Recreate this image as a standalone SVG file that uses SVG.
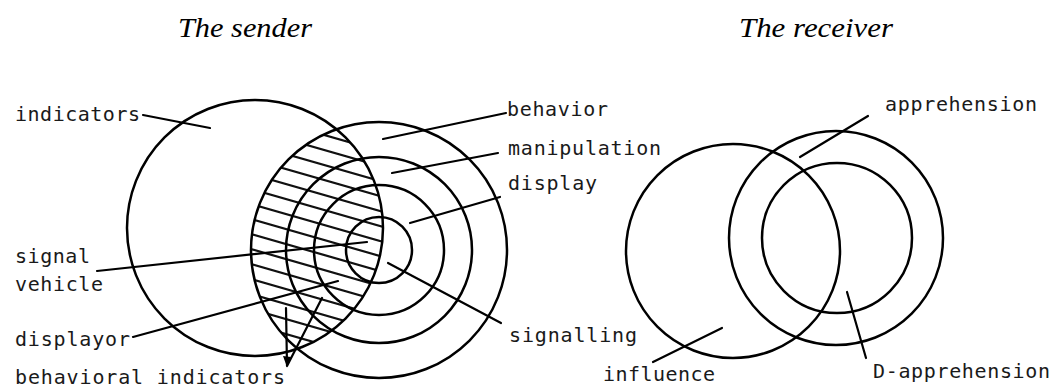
<svg xmlns="http://www.w3.org/2000/svg" width="1052" height="387" viewBox="0 0 1052 387">
<style>
.c{fill:none;stroke:#000;stroke-width:2.5}
.h{stroke:#111;stroke-width:2.2}
.l{fill:none;stroke:#000;stroke-width:2.2;stroke-linecap:round}
.t{font-family:"DejaVu Sans Mono","Liberation Mono",monospace;font-size:20px;fill:#1a1a1a}
.ti{font-family:"Liberation Serif","Times New Roman",serif;font-style:italic;font-size:28px;fill:#000}
</style>
<defs>
<clipPath id="cA"><circle cx="255" cy="228" r="128"/></clipPath>
<clipPath id="cB"><circle cx="379" cy="250" r="128"/></clipPath>
</defs>
<rect width="1052" height="387" fill="#fff"/>
<text class="ti" x="178" y="37" textLength="134" lengthAdjust="spacingAndGlyphs">The sender</text>
<text class="ti" x="739" y="37" textLength="154" lengthAdjust="spacingAndGlyphs">The receiver</text>

<g id="hatch" clip-path="url(#cA)"><g clip-path="url(#cB)">
<path class="h" d="M245,97.3 l150,43 M245,112.3 l150,43 M245,127.3 l150,43 M245,142.3 l150,43 M245,157.3 l150,43 M245,172.3 l150,43 M245,187.3 l150,43 M245,202.3 l150,43 M245,217.3 l150,43 M245,232.3 l150,43 M245,247.3 l150,43 M245,262.3 l150,43 M245,277.3 l150,43 M245,292.3 l150,43 M245,307.3 l150,43 M245,322.3 l150,43 M245,337.3 l150,43"/>
</g></g>

<g id="indicators"><circle class="c" cx="255" cy="228" r="128"/><text class="t" x="15" y="121" textLength="125" lengthAdjust="spacing">indicators</text></g>
<g id="behavior"><circle class="c" cx="379" cy="250" r="128"/><text class="t" x="507" y="116" textLength="101" lengthAdjust="spacing">behavior</text></g>
<g id="manipulation"><circle class="c" cx="379" cy="250" r="93"/><text class="t" x="508" y="155" textLength="153" lengthAdjust="spacing">manipulation</text></g>
<g id="display"><circle class="c" cx="379" cy="250" r="65"/><text class="t" x="508" y="190" textLength="89" lengthAdjust="spacing">display</text></g>
<g id="signalling"><circle class="c" cx="379" cy="250" r="33"/><text class="t" x="509" y="342" textLength="128" lengthAdjust="spacing">signalling</text></g>
<g id="signal-vehicle"><text class="t" x="15" y="263" textLength="75" lengthAdjust="spacing">signal</text><text class="t" x="15" y="291" textLength="88" lengthAdjust="spacing">vehicle</text></g>
<g id="displayor"><text class="t" x="15" y="346" textLength="115" lengthAdjust="spacing">displayor</text></g>
<g id="behavioral-indicators"><text class="t" x="15" y="384" textLength="270" lengthAdjust="spacing">behavioral indicators</text></g>

<g id="influence"><circle class="c" cx="733" cy="251" r="107"/><text class="t" x="603" y="381" textLength="112" lengthAdjust="spacing">influence</text></g>
<g id="apprehension"><circle class="c" cx="836" cy="238" r="107"/><text class="t" x="885" y="111" textLength="152" lengthAdjust="spacing">apprehension</text></g>
<g id="d-apprehension"><circle class="c" cx="837" cy="238" r="75"/><text class="t" x="873" y="378" textLength="177" lengthAdjust="spacing">D-apprehension</text></g>

<g id="connectors">
<path class="l" d="M143,115 L210,128"/>
<path class="l" d="M97,271 L367,242"/>
<path class="l" d="M133,337 L338,281"/>
<path class="l" d="M287,366 L286,308 M287,366 L322,298"/>
<polygon points="283,356 291,357 287,367" fill="#000"/>
<path class="l" d="M383,139 L506,113"/>
<path class="l" d="M392,173 L498,153"/>
<path class="l" d="M410,223 L500,197"/>
<path class="l" d="M388,263 L501,323" stroke-width="2.6"/>
<path class="l" d="M800,157 L868,116"/>
<path class="l" d="M653,362 L722,328"/>
<path class="l" d="M847,292 L866,358"/>
</g>
</svg>
